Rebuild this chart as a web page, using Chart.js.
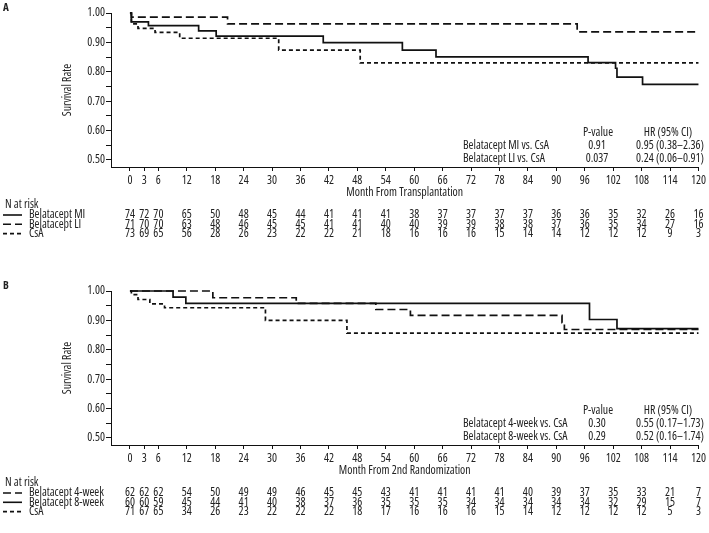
<!DOCTYPE html>
<html>
<head>
<meta charset="utf-8">
<script src="https://cdn.jsdelivr.net/npm/chart.js@4.4.1/dist/chart.umd.min.js"></script>
<style>
  html, body { margin: 0; padding: 0; background: #fff; }
  #wrap { position: relative; width: 709px; height: 533px; }
  canvas { position: absolute; left: 0; }
  #panelA { top: 0; }
  #panelB { top: 278px; }
</style>
</head>
<body>
<div id="wrap">
  <canvas id="panelA" width="709" height="255"></canvas>
  <canvas id="panelB" width="709" height="255"></canvas>
</div>
<script>
const INK = '#222';
const LINE = '#111';

// axis ticks
const xTicks = [0, 3, 6, 12, 18, 24, 30, 36, 42, 48, 54, 60, 66, 72, 78, 84, 90, 96, 102, 108, 114, 120];
const yTicks = [0.50, 0.55, 0.60, 0.65, 0.70, 0.75, 0.80, 0.85, 0.90, 0.95, 1.00];

// Panel A - survival curves (month, rate)
const miMonths = [0, 0.3, 3.9, 14.5, 18.2, 40.8, 57.5, 64.6, 96.7, 102.5, 102.8, 108.2, 120];
const miSurv   = [1, 0.970, 0.957, 0.939, 0.921, 0.899, 0.874, 0.851, 0.831, 0.812, 0.782, 0.757, 0.757];
const liMonths = [0, 0.3, 20.6, 94.4, 120];
const liSurv   = [1, 0.986, 0.963, 0.936, 0.936];
const csaAMonths = [0, 0.3, 1.7, 5.3, 10.5, 31.4, 48.6, 120];
const csaASurv   = [1, 0.963, 0.948, 0.934, 0.914, 0.874, 0.830, 0.830];

// Panel A - number at risk
const riskMI   = [74, 72, 70, 65, 50, 48, 45, 44, 41, 41, 41, 38, 37, 37, 37, 37, 36, 36, 35, 32, 26, 16];
const riskLI   = [71, 70, 70, 63, 48, 46, 45, 45, 41, 41, 40, 40, 39, 39, 38, 38, 37, 36, 35, 34, 27, 16];
const riskCsaA = [73, 69, 65, 56, 28, 26, 23, 22, 22, 21, 18, 16, 16, 16, 15, 14, 14, 12, 12, 12, 9, 3];

// Panel B - survival curves
const w4Months = [0, 17.5, 35.1, 51.9, 59.2, 91.2, 91.7, 120];
const w4Surv   = [1, 0.977, 0.958, 0.937, 0.917, 0.892, 0.869, 0.869];
const w8Months = [0, 9.1, 11.8, 97, 102.8, 120];
const w8Surv   = [1, 0.979, 0.958, 0.903, 0.872, 0.872];
const csaBMonths = [0, 0.3, 1.7, 4.2, 7.3, 28.6, 45.8, 120];
const csaBSurv   = [1, 0.988, 0.971, 0.956, 0.943, 0.900, 0.857, 0.857];

// Panel B - number at risk
const risk4w   = [62, 62, 62, 54, 50, 49, 49, 46, 45, 45, 43, 41, 41, 41, 41, 40, 39, 37, 35, 33, 21, 7];
const risk8w   = [60, 60, 59, 45, 44, 41, 40, 38, 37, 36, 35, 35, 35, 34, 34, 34, 34, 34, 32, 29, 15, 7];
const riskCsaB = [71, 67, 65, 34, 26, 23, 22, 22, 22, 18, 17, 16, 16, 16, 15, 14, 12, 12, 12, 12, 5, 3];

// stats tables
const statsA = [
  ['Belatacept MI vs. CsA', '0.91', '0.95 (0.38\u20132.36)'],
  ['Belatacept LI vs. CsA', '0.037', '0.24 (0.06\u20130.91)']
];
const statsB = [
  ['Belatacept 4-week vs. CsA', '0.30', '0.55 (0.17\u20131.73)'],
  ['Belatacept 8-week vs. CsA', '0.29', '0.52 (0.16\u20131.74)']
];

const SOLID = [];
const LONG = [8, 4];
const SHORT = [4, 3];

// the reference uses a narrow grotesque; pick the closest thing installed
const meas = document.createElement('canvas').getContext('2d');
const SAMPLE = 'Month From Transplantation';
function widthOf(font) { meas.font = font; return meas.measureText(SAMPLE).width; }
function installed(fam) {
  return Math.abs(widthOf(`40px '${fam}', monospace`) - widthOf('40px monospace')) > 1;
}
let FAMILY = "'Liberation Sans', Arial, sans-serif";
let STRETCH = '';
let best = Infinity;
const TARGET = 117 / 11.5;   // px of SAMPLE per px of font size
[['Liberation Sans Narrow', ''], ['Arial Narrow', ''], ['Roboto Condensed', ''],
 ['Noto Sans', 'condensed'], ['Open Sans', 'condensed'], ['DejaVu Sans Condensed', ''],
 ['Roboto', ''], ['Liberation Sans', '']].forEach(([fam, st]) => {
  if (!installed(fam)) return;
  const w = widthOf(`${st ? st + ' ' : ''}100px '${fam}'`) / 100;
  if (Math.abs(w - TARGET) < best - 0.05) { best = Math.abs(w - TARGET); FAMILY = `'${fam}', sans-serif`; STRETCH = st; }
});
const perPx = widthOf(`${STRETCH ? STRETCH + ' ' : ''}100px ${FAMILY}`) / 100;
const FS = Math.max(10, Math.min(12, 117 / perPx));

function fontStr(size, bold) {
  return (bold ? 'bold ' : '') + (STRETCH ? STRETCH + ' ' : '') + size + 'px ' + FAMILY;
}
function cjsFont(size) {
  return { family: FAMILY, size: size, weight: STRETCH || undefined };
}

function pts(months, surv) {
  return months.map((m, i) => ({ x: m, y: surv[i] }));
}

function curve(label, months, surv, dash) {
  return {
    label: label,
    data: pts(months, surv),
    stepped: 'before',
    borderColor: LINE,
    borderWidth: 1.7,
    borderDash: dash,
    pointRadius: 0,
    fill: false,
    clip: false
  };
}

// draws panel letter, P-value table and the N at risk table
const panelExtras = {
  id: 'panelExtras',
  afterDraw(chart, args, opts) {
    const ctx = chart.ctx;
    const xs = chart.scales.x;
    const area = chart.chartArea;
    ctx.save();
    ctx.fillStyle = INK;
    ctx.textBaseline = 'middle';

    ctx.font = fontStr(11, true);
    ctx.textAlign = 'left';
    ctx.fillText(opts.letter, 3, 8);

    ctx.font = fontStr(FS);
    let y = area.bottom - 34.5;
    ctx.textAlign = 'center';
    ctx.fillText('P-value', 598, y);
    ctx.fillText('HR (95% CI)', 668, y);
    opts.stats.forEach((row, i) => {
      const ry = area.bottom - 21.5 + i * 13.5;
      ctx.textAlign = 'left';
      ctx.fillText(row[0], 463, ry);
      ctx.textAlign = 'center';
      ctx.fillText(row[1], 597, ry);
      ctx.fillText(row[2], 670, ry);
    });

    // N at risk
    ctx.textAlign = 'left';
    ctx.fillText('N at risk', 5, area.bottom + 38);
    opts.risk.forEach((r, i) => {
      const ry = area.bottom + 48 + i * 9.3;
      ctx.strokeStyle = LINE;
      ctx.lineWidth = 1.6;
      ctx.setLineDash(r.dash);
      ctx.beginPath();
      ctx.moveTo(3, ry);
      ctx.lineTo(22, ry);
      ctx.stroke();
      ctx.setLineDash([]);
      ctx.textAlign = 'left';
      ctx.fillText(r.label, 29, ry);
      ctx.textAlign = 'center';
      r.values.forEach((v, j) => {
        ctx.fillText(String(v), xs.getPixelForValue(xTicks[j]), ry);
      });
    });
    ctx.restore();
  }
};

function makePanel(id, letter, xTitle, datasets, stats, risk) {
  const canvas = document.getElementById(id);
  const H = canvas.height;
  return new Chart(canvas, {
    type: 'line',
    data: { datasets: datasets },
    plugins: [panelExtras],
    options: {
      responsive: false,
      animation: false,
      events: [],
      layout: { padding: { top: 13, right: 9, left: 0, bottom: 0 } },
      plugins: {
        legend: { display: false },
        tooltip: { enabled: false },
        panelExtras: { letter: letter, stats: stats, risk: risk }
      },
      scales: {
        x: {
          type: 'linear',
          min: -4,
          max: 120,
          afterBuildTicks: s => { s.ticks = xTicks.map(v => ({ value: v })); },
          afterFit: s => { s.height = H - 167; },
          grid: { drawOnChartArea: false, drawTicks: true, tickLength: 4, color: LINE },
          border: { display: true, color: LINE, width: 1 },
          ticks: {
            autoSkip: false,
            maxRotation: 0,
            padding: 3,
            color: INK,
            font: cjsFont(FS),
            callback: v => String(v)
          },
          title: {
            display: true,
            text: xTitle,
            color: INK,
            font: cjsFont(FS),
            padding: { top: 0, bottom: H - 193 - FS * 0.6 }
          }
        },
        y: {
          min: 0.476,
          max: 1.0,
          afterBuildTicks: s => { s.ticks = yTicks.map(v => ({ value: v })); },
          afterFit: s => { s.width = 111; },
          grid: { drawOnChartArea: false, drawTicks: true, tickLength: 5, color: LINE },
          border: { display: true, color: LINE, width: 1 },
          ticks: {
            autoSkip: false,
            padding: 1,
            color: INK,
            font: cjsFont(FS),
            callback: v => (Math.abs(v * 10 - Math.round(v * 10)) < 1e-6 ? v.toFixed(2) : '')
          },
          title: {
            display: true,
            text: 'Survival Rate',
            color: INK,
            font: cjsFont(FS),
            padding: { top: 68 - FS * 0.6, bottom: 0 }
          }
        }
      }
    }
  });
}

makePanel('panelA', 'A', 'Month From Transplantation', [
  curve('Belatacept MI', miMonths, miSurv, SOLID),
  curve('Belatacept LI', liMonths, liSurv, LONG),
  curve('CsA', csaAMonths, csaASurv, SHORT)
], statsA, [
  { label: 'Belatacept MI', values: riskMI, dash: SOLID },
  { label: 'Belatacept LI', values: riskLI, dash: LONG },
  { label: 'CsA', values: riskCsaA, dash: SHORT }
]);

makePanel('panelB', 'B', 'Month From 2nd Randomization', [
  curve('Belatacept 4-week', w4Months, w4Surv, LONG),
  curve('Belatacept 8-week', w8Months, w8Surv, SOLID),
  curve('CsA', csaBMonths, csaBSurv, SHORT)
], statsB, [
  { label: 'Belatacept 4-week', values: risk4w, dash: LONG },
  { label: 'Belatacept 8-week', values: risk8w, dash: SOLID },
  { label: 'CsA', values: riskCsaB, dash: SHORT }
]);
</script>
</body>
</html>
